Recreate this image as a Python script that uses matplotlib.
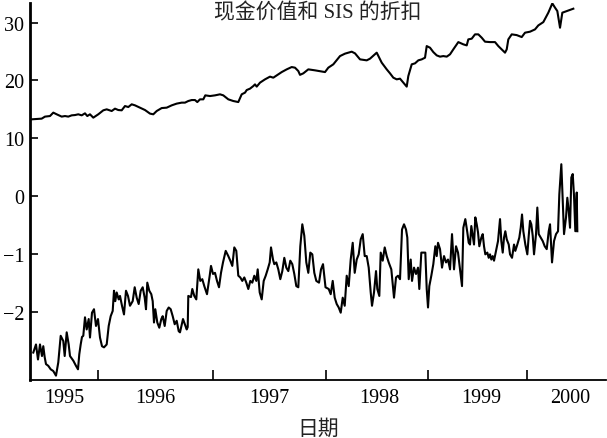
import numpy as np
import matplotlib
matplotlib.use("Agg")
import matplotlib.pyplot as plt

plt.rcParams['font.family'] = ['Liberation Serif', 'Noto Sans CJK SC']
plt.rcParams['axes.unicode_minus'] = True

# observation position along the time axis (uneven weekly counts per year)
year_edges = [68, 183, 296, 398, 497]
year_mid = [34, 125, 239, 349, 451, 540]
year_labels = ["1995", "1996", "1997", "1998", "1999", "2000"]

# cash value (upper line), read in its own units
cash_x = [1.7, 11.7, 15, 20, 23.3, 26.7, 31.7, 35, 38.3, 41.7, 45, 48.3, 51.7, 55, 57.3, 60,
          63.3, 68.3, 73.3, 76.7, 81.7, 85, 88.3, 91.7, 95, 98.3, 101.7, 105, 110, 115, 120,
          123.3, 126.7, 131.7, 136.7, 141.7, 146.7, 151.7, 155, 158.3, 161.7, 165, 167.3, 170,
          173.3, 175.3, 180, 185, 190, 193.3, 198.3, 203.3, 208.3, 211.7, 215, 216.7, 220,
          223.3, 225, 226.7, 230, 235, 240, 243.3, 246.7, 251.7, 256.7, 261.7, 265, 268.3, 270,
          273.3, 278.3, 285, 295, 298.3, 303.3, 310, 315, 321.7, 325, 330, 336.7, 340, 346.7,
          351.7, 356.7, 360, 363.3, 366.7, 370, 373.3, 376.7, 378.3, 381.7, 385, 388.3, 391.7,
          395, 396.7, 400, 403.3, 406.7, 410, 413.3, 416.7, 420, 423.3, 428.3, 433.3, 436.7,
          438.3, 441.7, 445, 448.3, 451.7, 455, 460, 465, 468.3, 471.7, 475, 476.7, 478.3,
          481.7, 486.7, 491.7, 495, 500, 505, 508.3, 513.3, 518.3, 522.3, 525, 527.3, 530,
          532.3, 536.7, 543.3]
cash_y = [13.27, 13.39, 13.74, 13.84, 14.43, 14.14, 13.74, 13.84, 13.74, 13.96, 14.01, 14.14,
          13.96, 14.31, 13.84, 14.14, 13.56, 14.14, 14.83, 15.00, 14.71, 15.12, 14.88, 14.83,
          15.57, 15.40, 15.87, 15.69, 15.29, 14.88, 14.26, 14.14, 14.71, 15.22, 15.29, 15.69,
          15.99, 16.16, 16.16, 16.44, 16.61, 16.61, 16.26, 16.73, 16.73, 17.42, 17.30, 17.42,
          17.60, 17.42, 16.73, 16.44, 16.26, 17.60, 17.89, 18.34, 18.58, 19.03, 19.32, 18.93,
          19.62, 20.19, 20.66, 20.48, 20.88, 21.45, 21.92, 22.32, 22.21, 21.63, 20.97, 21.23,
          21.92, 21.75, 21.45, 22.21, 22.79, 24.22, 24.64, 24.98, 24.69, 23.65, 23.48, 23.77,
          24.81, 23.08, 21.92, 21.23, 20.48, 20.19, 20.31, 19.62, 18.93, 20.76, 22.79, 22.96,
          23.48, 23.65, 23.94, 25.95, 25.67, 24.91, 24.34, 24.12, 24.22, 24.12, 24.52, 25.38,
          26.64, 26.25, 26.07, 27.11, 27.23, 27.98, 27.98, 27.40, 26.71, 26.64, 26.64, 25.95,
          25.38, 24.81, 25.38, 27.11, 27.98, 27.85, 27.51, 28.27, 28.44, 28.84, 29.53, 30.10,
          31.73, 33.34, 32.60, 32.01, 29.13, 31.73, 32.01, 32.42]

# SIS discount (lower line)
disc_x = [3.3, 6, 8, 10, 12, 13.3, 14.7, 16, 18.3, 20.7, 23.3, 26, 28.3, 30.7, 33.3, 34.7,
          36.7, 38.7, 40, 43.3, 46, 48, 49.3, 50.7, 52, 53.3, 55, 56.7, 58.7, 60, 62, 64, 66,
          68, 70, 72, 74, 76.7, 78.7, 80.7, 82.7, 84, 85.3, 86.7, 88.7, 90, 92, 94, 96, 98,
          100, 102.7, 104.7, 106.7, 108.7, 110.7, 112.7, 114.7, 116, 117.3, 119.3, 121.3,
          122.7, 124, 125.3, 127.3, 129.3, 131.3, 132.7, 134.7, 136.7, 138.7, 140.7, 142.7,
          144.7, 146.7, 148.7, 150, 153, 156.7, 157.7, 158.3, 161, 162.3, 164.3, 166.3, 168.3,
          170.3, 172.3, 174.3, 177, 179.7, 181, 183, 185, 187, 189, 191, 193, 195.7, 198.3,
          200.3, 202.3, 204.3, 206.3, 208.3, 210.3, 212.3, 214.3, 216.3, 218.3, 220.3, 222.3,
          224.3, 226.3, 227.7, 229.7, 231.7, 233.7, 235.7, 237.7, 239.7, 241, 243, 244.3,
          246.3, 248.3, 250.3, 252.3, 254.3, 256.3, 258.3, 260.3, 262.3, 264.3, 266.3, 268.3,
          270.3, 272.3, 274.3, 276.3, 278.3, 280.3, 282.3, 284.3, 286.3, 289, 291, 293, 295.5,
          298.7, 300.7, 302.7, 304.7, 306.7, 308.7, 310.7, 312.7, 314.7, 316.7, 318.7, 320.7,
          322.7, 324.7, 326.7, 328.7, 330.7, 332.7, 334.7, 336.7, 338.7, 340.7, 342, 344, 346,
          347.3, 349.3, 350.7, 352.7, 354.7, 356.7, 358.7, 361.3, 362.7, 364, 366, 368, 370,
          372, 374, 376, 377.3, 378.7, 380.7, 382, 384, 386, 388, 389.3, 391.3, 393.3, 395.3,
          396.7, 398, 399.3, 401.3, 403.3, 405.3, 406.7, 408, 410, 412, 414, 416, 418, 420,
          422, 424, 426, 428, 430, 432, 433.3, 435.3, 437.3, 438.7, 440, 441.3, 442.7, 444,
          445.3, 446.7, 448, 449.3, 451.3, 452.7, 454, 455.3, 457.3, 458.7, 460, 461.3, 462.7,
          464, 466, 468, 470, 471.3, 472.7, 474, 475.3, 476.7, 478.7, 480, 482, 484, 485.3,
          487.3, 489.3, 490.7, 492, 493.3, 495.3, 497.3, 498.7, 500, 501.3, 502.7, 504, 506,
          507.3, 508.7, 510.7, 512.7, 514.7, 516.7, 518.7, 520, 522, 524, 526, 528, 529.3,
          531.3, 532.7, 534, 536, 537.3, 538.7, 540, 541.3, 542.7, 544, 545.3, 546.7, 547.3]
disc_y = [-2.71, -2.57, -2.83, -2.57, -2.77, -2.60, -2.79, -2.91, -2.94, -3.00, -3.03, -3.11,
          -2.88, -2.42, -2.51, -2.77, -2.36, -2.57, -2.77, -2.85, -2.94, -3.00, -2.74, -2.57,
          -2.44, -2.42, -2.10, -2.31, -2.13, -2.45, -2.02, -1.96, -2.25, -2.13, -2.45, -2.60,
          -2.62, -2.57, -2.25, -2.08, -1.99, -1.64, -1.82, -1.67, -1.79, -1.73, -1.90, -2.05,
          -1.64, -1.73, -1.90, -1.82, -1.58, -1.76, -1.87, -1.64, -1.58, -1.76, -1.96, -1.50,
          -1.64, -1.70, -1.82, -2.19, -1.96, -2.19, -2.28, -2.13, -2.08, -2.25, -1.99, -1.93,
          -1.96, -2.08, -2.22, -2.16, -2.34, -2.36, -2.13, -2.31, -2.27, -1.73, -1.75, -1.61,
          -1.73, -1.79, -1.27, -1.47, -1.44, -1.56, -1.70, -1.38, -1.21, -1.35, -1.33, -1.47,
          -1.58, -1.33, -1.15, -0.95, -1.04, -1.12, -1.21, -0.89, -0.95, -1.38, -1.41, -1.47,
          -1.41, -1.50, -1.61, -1.47, -1.50, -1.38, -1.47, -1.27, -1.67, -1.79, -1.47, -1.38,
          -1.27, -1.15, -0.89, -1.10, -1.18, -1.15, -1.27, -1.44, -1.30, -1.07, -1.24, -1.30,
          -1.12, -1.18, -1.35, -1.56, -1.58, -0.87, -0.49, -0.69, -1.15, -1.33, -0.98, -1.01,
          -1.33, -1.47, -1.50, -1.27, -1.18, -1.58, -1.61, -1.70, -1.47, -1.76, -1.87, -1.93,
          -2.02, -1.76, -1.90, -1.38, -1.56, -1.10, -0.81, -1.33, -1.10, -1.01, -0.75, -0.66,
          -1.04, -1.04, -1.24, -1.67, -1.90, -1.67, -1.30, -1.61, -1.73, -0.98, -1.12, -0.89,
          -1.04, -1.15, -1.27, -1.53, -1.76, -1.41, -1.38, -1.44, -0.58, -0.49, -0.58, -0.72,
          -1.44, -1.10, -1.47, -1.24, -1.35, -1.24, -1.61, -0.98, -0.98, -0.98, -1.61, -1.93,
          -1.56, -1.38, -1.18, -0.87, -1.04, -0.81, -0.92, -1.24, -1.04, -1.15, -1.10, -1.27,
          -0.66, -1.27, -0.87, -0.98, -1.27, -1.56, -0.55, -0.40, -0.63, -0.81, -0.84, -0.52,
          -0.69, -0.84, -0.37, -0.49, -0.63, -0.87, -0.72, -0.66, -0.87, -1.01, -0.98, -1.07,
          -1.01, -1.10, -1.04, -1.12, -0.95, -0.78, -0.40, -0.78, -0.98, -0.72, -0.61, -0.75,
          -0.84, -1.01, -1.07, -0.84, -0.95, -0.84, -0.72, -0.55, -0.32, -0.61, -0.84, -1.01,
          -0.69, -0.43, -0.49, -0.69, -1.01, -0.66, -0.20, -0.66, -0.72, -0.78, -0.87, -0.92,
          -0.61, -0.49, -1.15, -0.78, -0.66, -0.61, 0.03, 0.55, -0.09, -0.66, -0.37, -0.03,
          -0.26, -0.55, 0.32, 0.38, 0.00, -0.61, 0.06, -0.61]

# the upper line is drawn at 1/10 scale so both fit one axis
ytick_pos = [-2, -1, 0, 1, 2, 3]
ytick_lab = ["\u22122", "\u22121", "0", "10", "20", "30"]

fig = plt.figure(figsize=(6.07, 4.39), dpi=100)
ax = fig.add_axes([0.0494, 0.1328, 0.949, 0.858])

ax.plot(cash_x, np.array(cash_y) / 10.0, color="black", lw=1.5)
ax.plot(disc_x, disc_y, color="black", lw=1.5)

ax.set_xlim(0, 576)
ax.set_ylim(-3.18, 3.34)

ax.spines["top"].set_visible(False)
ax.spines["right"].set_visible(False)
ax.spines["left"].set_linewidth(2.0)
ax.spines["bottom"].set_linewidth(1.3)

ax.set_yticks(ytick_pos)
ax.set_yticklabels(ytick_lab)
ax.set_xticks(year_edges)
ax.set_xticklabels([])
ax.set_xticks(year_mid, minor=True)
ax.set_xticklabels(year_labels, minor=True)

ax.tick_params(axis="y", direction="in", length=6, width=1.2, labelsize=14.5, pad=4)
ax.tick_params(axis="x", which="major", direction="in", length=7, width=1.2)
ax.tick_params(axis="x", which="minor", length=0, labelsize=14.5, pad=6)

ax.set_xlabel("日期", fontsize=15, labelpad=9, color="#222222")
ax.text(0.5, 0.976, "现金价值和 SIS 的折扣", transform=ax.transAxes,
        ha="center", va="center", fontsize=15, color="#222222")

fig.savefig("out.png", dpi=100)
